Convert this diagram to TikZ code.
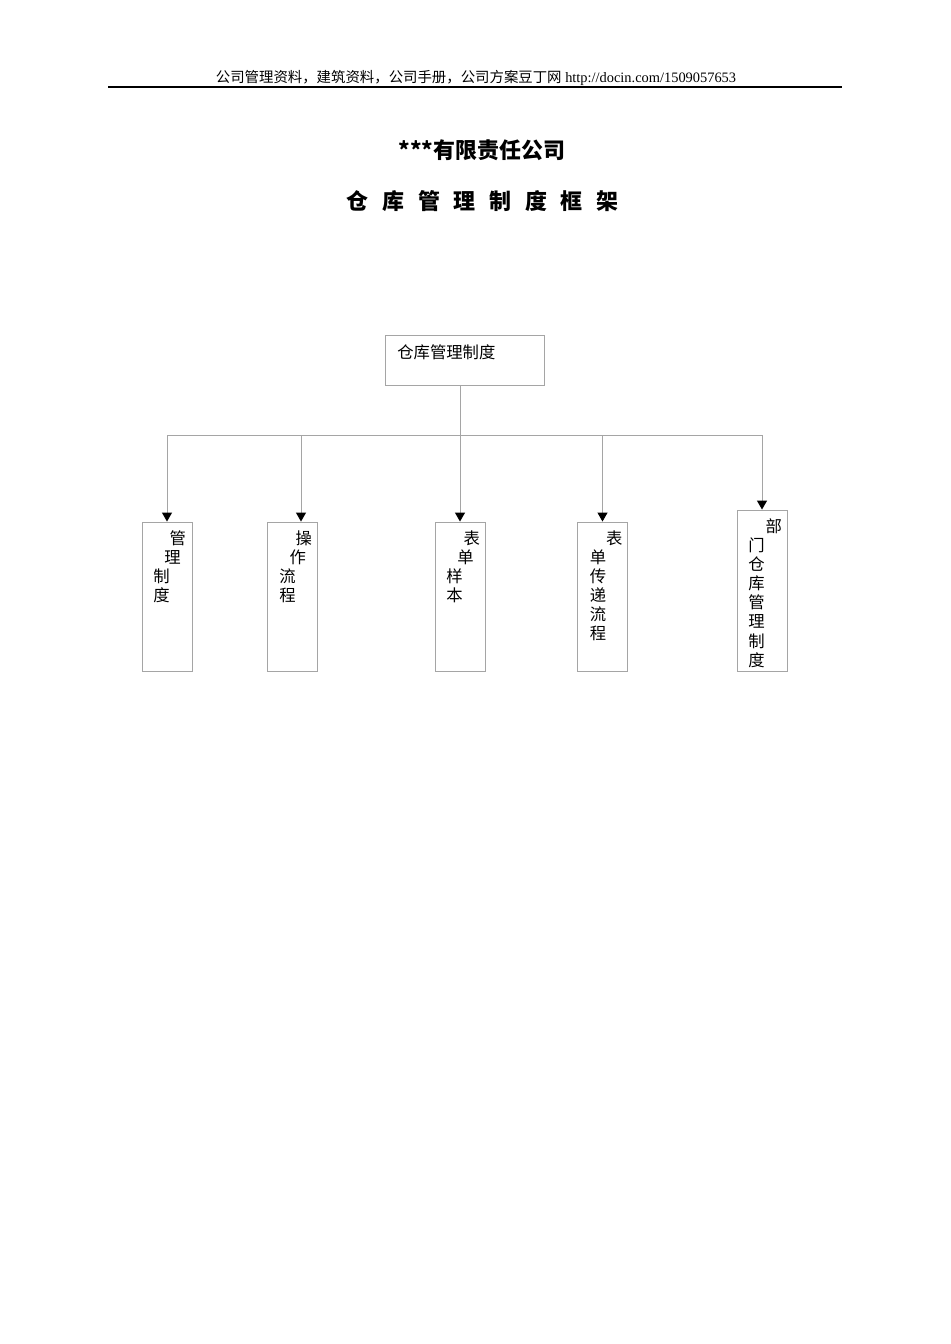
\documentclass[tikz,border=0pt]{standalone}
\usepackage{fontspec}
\setmainfont{Liberation Serif}
\newfontfamily\cjk{Noto Sans CJK SC}
\usetikzlibrary{positioning,arrows.meta}
\definecolor{linegray}{RGB}{165,165,165}
\newcommand{\sgap}{\hspace{7.8pt}}

\begin{document}
\begin{tikzpicture}[x=0.02cm, y=-0.02cm,
  box/.style={draw=linegray, line width=0.55pt, inner sep=0pt},
  leaf/.style={box, minimum width=1cm, minimum height=2.98cm},
  btext/.style={inner sep=0pt, align=left, font=\cjk\fontsize{9.3}{10.9}\selectfont},
  conn/.style={draw=linegray, line width=0.55pt},
  >={Triangle[length=5.1pt, width=5.7pt, color=black]}]

\useasboundingbox (0,0) rectangle (950,1344);

% header
\node (head) at (476,78) {\fontsize{8.2}{10}\selectfont{\cjk 公司管理资料，建筑资料，公司手册，公司方案豆丁网}\ http://docin.com/1509057653};
\draw [line width=0.75pt] (108,87) -- (842,87);

% titles
\node (title) at (482,150) {\cjk\bfseries\fontsize{12.5}{15}\selectfont ***有限责任公司};
\node (sub) at (482.5,201) {\cjk\bfseries\fontsize{12.5}{15}\selectfont 仓\sgap 库\sgap 管\sgap 理\sgap 制\sgap 度\sgap 框\sgap 架};

% boxes
\node [box, minimum width=3.18cm, minimum height=1cm] (top) at (464.5,360) {};
\node [btext, below right=0.19cm and 0.25cm of top.north west] (toptext) {仓库管理制度};

\node [leaf] (b1) at (167,596.5) {};
\node [leaf] (b2) at (292,596.5) {};
\node [leaf] (b3) at (460,596.5) {};
\node [leaf] (b4) at (602.5,596.5) {};
\node [leaf, minimum height=3.22cm] (b5) at (762,590.5) {};

\node [btext, below right=0.17cm and 0.23cm of b1.north west] (t1) {\hspace{1em}管\\\hspace{0.68em}理\\制\\度};
\node [btext, below right=0.17cm and 0.25cm of b2.north west] (t2) {\hspace{1em}操\\\hspace{0.63em}作\\流\\程};
\node [btext, below right=0.17cm and 0.23cm of b3.north west] (t3) {\hspace{1.05em}表\\\hspace{0.68em}单\\样\\本};
\node [btext, below right=0.17cm and 0.25cm of b4.north west] (t4) {\hspace{1em}表\\单\\传\\递\\流\\程};
\node [btext, below right=0.17cm and 0.23cm of b5.north west] (t5) {\hspace{1.05em}部\\门\\仓\\库\\管\\理\\制\\度};

% connectors
\coordinate (bus) at (460,435);
\draw [conn] (top.south -| b3.north) -- (bus);
\draw [conn] (b1.north |- bus) -- (b5.north |- bus);
\draw [conn, ->] (b1.north |- bus) -- (b1.north);
\draw [conn, ->] ([xshift=0.18cm]b2.north |- bus) -- ([xshift=0.18cm]b2.north);
\draw [conn, ->] (bus) -- (b3.north);
\draw [conn, ->] (b4.north |- bus) -- (b4.north);
\draw [conn, ->] (b5.north |- bus) -- (b5.north);

\end{tikzpicture}
\end{document}
